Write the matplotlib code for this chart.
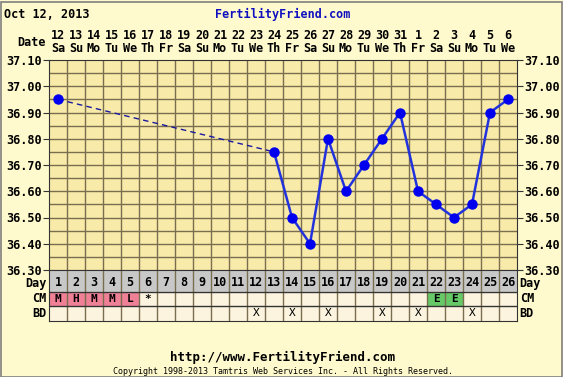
import matplotlib.pyplot as plt
import numpy as np

# chart data
days = np.arange(1, 27)
dates = ['12', '13', '14', '15', '16', '17', '18', '19', '20', '21', '22', '23', '24',
         '25', '26', '27', '28', '29', '30', '31', '1', '2', '3', '4', '5', '6']
weekdays = ['Sa', 'Su', 'Mo', 'Tu', 'We', 'Th', 'Fr', 'Sa', 'Su', 'Mo', 'Tu', 'We', 'Th',
            'Fr', 'Sa', 'Su', 'Mo', 'Tu', 'We', 'Th', 'Fr', 'Sa', 'Su', 'Mo', 'Tu', 'We']
temp_days = [1, 13, 14, 15, 16, 17, 18, 19, 20, 21, 22, 23, 24, 25, 26]
temps = [36.95, 36.75, 36.50, 36.40, 36.80, 36.60, 36.70, 36.80, 36.90,
         36.60, 36.55, 36.50, 36.55, 36.90, 36.95]
cm_days = [1, 2, 3, 4, 5, 6, 22, 23]
cm_vals = ['M', 'H', 'M', 'M', 'L', '*', 'E', 'E']
bd_days = [12, 14, 16, 19, 21, 24]
yticks = [36.30, 36.40, 36.50, 36.60, 36.70, 36.80, 36.90, 37.00, 37.10]

W, H = 563, 377
outer_bg = '#fffacd'
plot_bg = '#f8eaa8'
grid_c = '#7a6e50'
font = ['DejaVu Sans Mono']

fig = plt.figure(figsize=(W / 100, H / 100), dpi=100, facecolor=outer_bg)
fig.patches.append(plt.Rectangle((0.5 / W, 0.5 / H), 1 - 2 / W, 1 - 2 / H, transform=fig.transFigure,
                                 fill=False, edgecolor='#808080', lw=1.2))

L, R = 49 / W, 517 / W
ax = fig.add_axes([L, 1 - 270 / H, R - L, 210 / H])
ax.set_facecolor(plot_bg)
ax.set_xlim(0.5, 26.5)
ax.set_ylim(36.30, 37.10)
for x in np.arange(1.5, 26.5, 1):
    ax.axvline(x, color=grid_c, lw=1)
for y in np.arange(36.35, 37.10, 0.05):
    ax.axhline(y, color=grid_c, lw=1)
for s in ax.spines.values():
    s.set_color('#333333')
ax.set_xticks([])
ax.set_yticks(yticks)
ax.set_yticklabels(['%.2f' % v for v in yticks], family=font, fontweight='bold', fontsize=8.5)
ax.tick_params(axis='y', length=4, color='#333333', labelright=True, right=True, pad=1)

# dashed gap line then solid line
ax.plot(temp_days[:2], temps[:2], color='#1a1aa0', lw=1, ls=(0, (4, 3)), zorder=3)
ax.plot(temp_days[1:], temps[1:], color='#2233dd', lw=1.8, zorder=3)
ax.plot(temp_days, temps, 'o', color='#0000ee', ms=6.5, zorder=4)

# date header
for d, dt, wd in zip(days, dates, weekdays):
    ax.text(d, 37.10 + 0.092, dt, ha='center', va='center', family=font, fontweight='bold', fontsize=8.5)
    ax.text(d, 37.10 + 0.042, wd, ha='center', va='center', family=font, fontweight='bold', fontsize=8.5)
ax.text(0.3, 37.10 + 0.066, 'Date', ha='right', va='center', family=font, fontweight='bold', fontsize=8.5)

# table rows
tb = fig.add_axes([L, 1 - 321 / H, R - L, 51 / H])
tb.set_xlim(0.5, 26.5)
tb.set_ylim(0, 51)
tb.set_xticks([])
tb.set_yticks([])
tb.axhspan(29, 51, color='#c8c8c8')
tb.axhspan(0, 29, color='#fdf4e0')
for d, v in zip(cm_days, cm_vals):
    if v in ('M', 'H', 'L'):
        tb.fill_between([d - 0.5, d + 0.5], 15, 29, color='#f08096', lw=0)
    elif v == 'E':
        tb.fill_between([d - 0.5, d + 0.5], 15, 29, color='#66c866', lw=0)
    tb.text(d, 22, v, ha='center', va='center', family=font, fontweight='bold', fontsize=8)
for d in bd_days:
    tb.text(d, 7.5, 'X', ha='center', va='center', family=font, fontsize=8)
for d in days:
    tb.text(d, 38, str(d), ha='center', va='center', family=font, fontweight='bold', fontsize=8.5)
for x in np.arange(1.5, 26.5, 1):
    tb.axvline(x, color=grid_c, lw=1)
tb.axhline(29, color='#333333', lw=1)
tb.axhline(15, color='#333333', lw=1)
for s in tb.spines.values():
    s.set_color('#333333')
for y, lab in [(38, 'Day'), (22, 'CM'), (7.5, 'BD')]:
    tb.text(0.35, y, lab, ha='right', va='center', family=font, fontweight='bold', fontsize=8.5)
    tb.text(26.65, y, lab, ha='left', va='center', family=font, fontweight='bold', fontsize=8.5)

# header / footer text
fig.text(4 / W, 1 - 14 / H, 'Oct 12, 2013', ha='left', va='center', family=font, fontweight='bold', fontsize=8.5)
fig.text(283 / W, 1 - 14 / H, 'FertilityFriend.com', ha='center', va='center', family=font,
         fontweight='bold', fontsize=8.5, color='#1010c0')
fig.text(283 / W, 1 - 357 / H, 'http://www.FertilityFriend.com', ha='center', va='center', family=font,
         fontweight='bold', fontsize=9)
fig.text(283 / W, 1 - 371 / H, 'Copyright 1998-2013 Tamtris Web Services Inc. - All Rights Reserved.',
         ha='center', va='center', family=font, fontsize=6)

fig.savefig('out.png', dpi=100, facecolor=outer_bg)
